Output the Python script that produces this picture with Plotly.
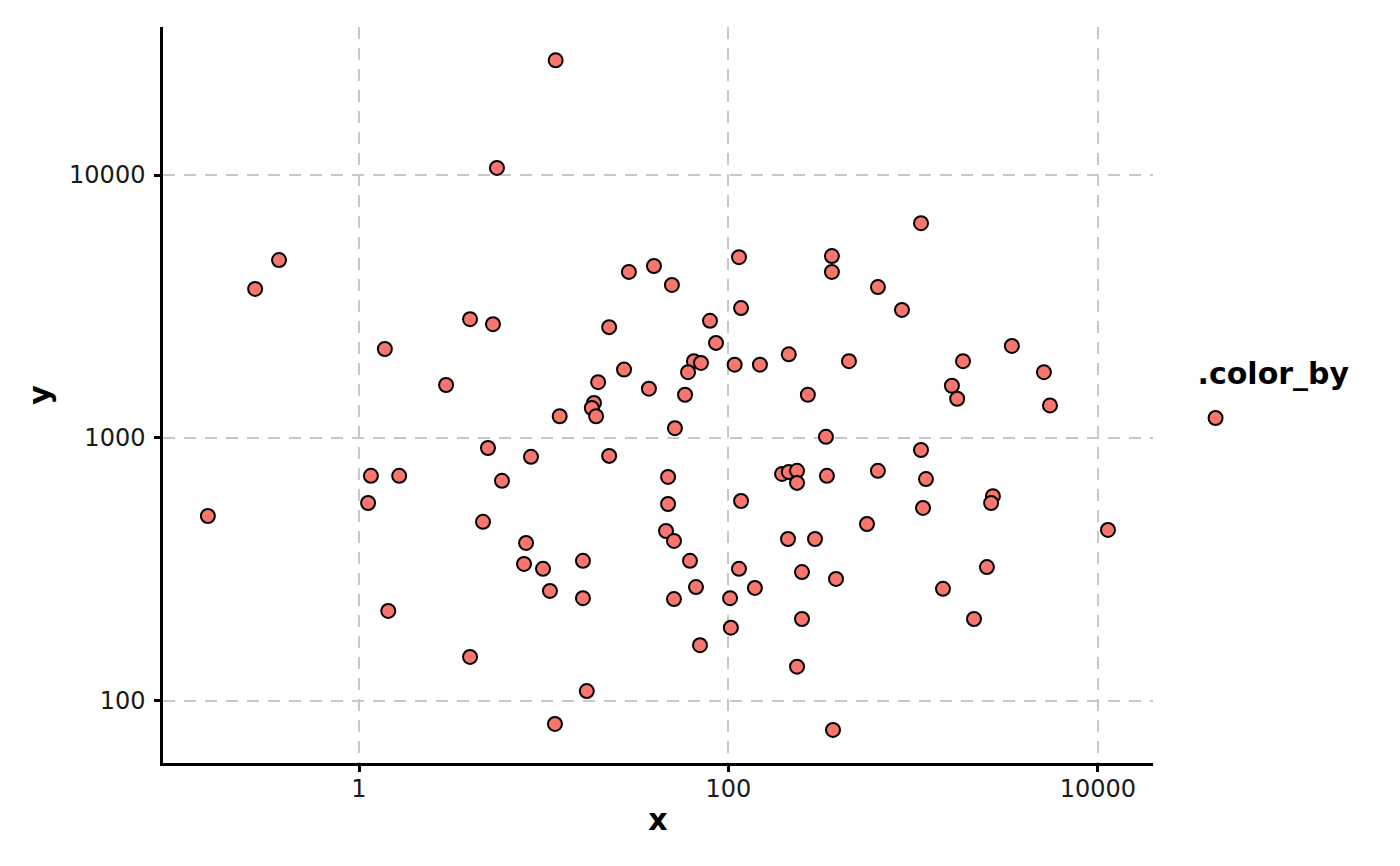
import plotly.graph_objects as go

x_vals = [11.6, 5.58, 1102, 0.369, 0.274, 114, 363, 28.9, 39.5, 363,
          49.4, 644, 869, 117, 3.99, 5.31, 79.4, 22.6, 85.6, 1.38,
          3420, 212, 449, 65.0, 71.0, 108, 148, 27.2, 60.4, 5100,
          19.7, 2.96, 37.1, 1620, 58.2, 269, 1860, 1730, 5500, 18.7,
          18.2, 19.2, 12.2, 51.3, 337, 4.99, 1102, 8.53, 22.6, 1.16,
          1.65, 5.94, 47.1, 195, 212, 235, 644, 341, 1172, 235,
          2700, 2640, 117, 47.1, 1130, 0.152, 1.12, 4.69, 562, 45.9,
          11330, 8.02, 50.7, 210, 294, 16.3, 7.82, 61.9, 9.91, 2506,
          114, 250, 382, 66.7, 10.8, 139, 1449, 16.3, 50.7, 102,
          1.44, 250, 2133, 103, 70.1, 3.99, 235, 17.1, 11.5, 368]

y_vals = [27300, 10640, 6560, 4750, 3690, 4870, 4920, 4280, 4510, 4280,
          3820, 3750, 3070, 3120, 2830, 2710, 2790, 2640, 2300, 2180,
          2240, 2080, 1960, 1960, 1930, 1900, 1900, 1820, 1780, 1780,
          1630, 1590, 1540, 1580, 1460, 1460, 1960, 1410, 1330, 1360,
          1300, 1210, 1210, 1090, 1010, 916, 900, 848, 855, 718,
          718, 687, 711, 730, 743, 750, 750, 718, 698, 675,
          601, 566, 576, 561, 542, 505, 566, 480, 471, 443,
          447, 399, 406, 413, 413, 341, 332, 341, 318, 323,
          318, 309, 291, 271, 262, 269, 267, 246, 244, 246,
          220, 205, 205, 190, 163, 147, 135, 109, 81.8, 77.6]

x_ticks = [1, 100, 10000]
x_tick_labels = ["1", "100", "10000"]
y_ticks = [100, 1000, 10000]
y_tick_labels = ["100", "1000", "10000"]

FONT = "DejaVu Sans"

fig = go.Figure()
fig.add_trace(go.Scatter(
    x=x_vals, y=y_vals, mode="markers", name="", showlegend=True,
    marker=dict(size=14, color="#F8766D", line=dict(color="black", width=2)),
))

axis_common = dict(
    type="log",
    showgrid=True, gridcolor="#c8c8c8", gridwidth=2, griddash="12px,9px",
    zeroline=False,
    showline=True, linecolor="black", linewidth=2.5,
    ticks="outside", ticklen=6, tickwidth=2.5, tickcolor="black",
    tickfont=dict(family=FONT, size=24, color="#1a1a1a"),
    mirror=False,
)

fig.update_xaxes(**axis_common, range=[-1.061, 4.298],
                 tickvals=x_ticks, ticktext=x_tick_labels, ticklabelstandoff=-4,
                 title=dict(text="<b>x</b>", font=dict(family=FONT, size=30, color="black"), standoff=8))
fig.update_yaxes(**axis_common, range=[1.764, 4.563],
                 tickvals=y_ticks, ticktext=y_tick_labels, ticklabelstandoff=4,
                 title=dict(text="<b>y</b>", font=dict(family=FONT, size=30, color="black"), standoff=10))

fig.update_layout(
    width=1392, height=858,
    margin=dict(l=155, r=247, t=19, b=103),
    plot_bgcolor="white", paper_bgcolor="white",
    font=dict(family=FONT, color="black"),
    legend=dict(
        title=dict(text="<b>.color_by</b>", font=dict(family=FONT, size=30, color="black"), side="top"),
        x=1.043, xanchor="left", y=0.495, yanchor="middle",
        bgcolor="rgba(0,0,0,0)", borderwidth=0,
        font=dict(family=FONT, size=42),
    ),
)

fig.write_html("out.html")
